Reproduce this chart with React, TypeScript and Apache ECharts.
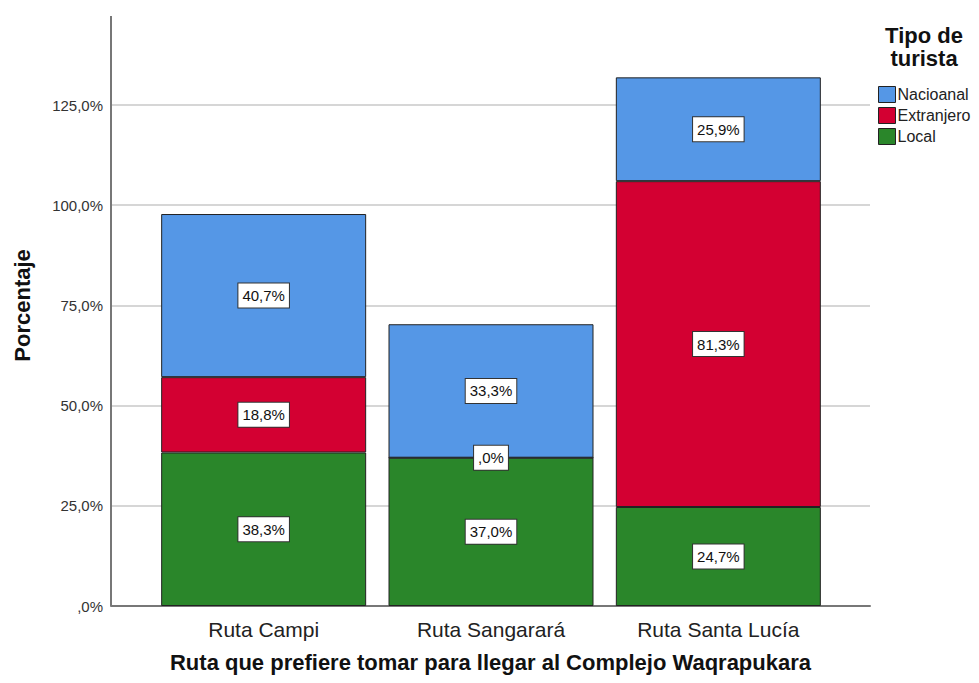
import React, { useEffect, useRef } from "react";
import * as echarts from "echarts";

const categories = ["Ruta Campi", "Ruta Sangarará", "Ruta Santa Lucía"];
const seriesNames = ["Nacioanal", "Extranjero", "Local"];
const localValues = [38.3, 37.0, 24.7];
const extranjeroValues = [18.8, 0.0, 81.3];
const nacionalValues = [40.7, 33.3, 25.9];
const yTicks = [0, 25, 50, 75, 100, 125];

const colors = { Nacioanal: "#5597E6", Extranjero: "#D30032", Local: "#2A862A" };
const FONT = "Liberation Sans, Arial, sans-serif";

function fmt(v: number): string {
  let s = v.toFixed(1).replace(".", ",");
  if (s.startsWith("0,")) s = s.slice(1);
  return s + "%";
}

export default function App() {
  const ref = useRef<HTMLDivElement>(null);
  useEffect(() => {
    if (!ref.current) return;
    const chart = echarts.init(ref.current, null, { renderer: "svg" });
    const yMax = 150;
    const gridTop = 4.8;
    const label = {
      show: true,
      position: "inside",
      formatter: (p: any) => fmt(p.value),
      backgroundColor: "#ffffff",
      borderColor: "#333333",
      borderWidth: 1,
      padding: [5, 4, 4, 4],
      color: "#111",
      fontSize: 15,
      fontFamily: FONT,
    };
    const mk = (name: string, data: number[]) => ({
      name,
      type: "bar",
      stack: "total",
      xAxisIndex: 1,
      yAxisIndex: 1,
      barWidth: 205,
      data,
      itemStyle: { color: (colors as any)[name], borderColor: "#222", borderWidth: 1 },
      label,
    });
    chart.setOption({
      animation: false,
      backgroundColor: "#ffffff",
      grid: [
        { left: 111, right: 109, top: gridTop, bottom: 77, outerBoundsMode: "none", containLabel: false },
        { left: 150, right: 147, top: gridTop, bottom: 77, outerBoundsMode: "none", containLabel: false },
      ],
      xAxis: [
        {
          type: "value",
          gridIndex: 0,
          min: 0,
          max: 1,
          axisLine: { show: true, lineStyle: { color: "#777", width: 2 } },
          axisTick: { show: false },
          axisLabel: { show: false },
          splitLine: { show: false },
          name: "Ruta que prefiere tomar para llegar al Complejo Waqrapukara",
          nameLocation: "middle",
          nameGap: 45,
          nameTextStyle: { fontFamily: FONT, fontSize: 22, fontWeight: "bold", color: "#111" },
        },
        {
          type: "category",
          gridIndex: 1,
          data: categories,
          axisLine: { show: false },
          axisTick: { show: false },
          axisLabel: { fontFamily: FONT, fontSize: 21, color: "#222", margin: 13 },
        },
      ],
      yAxis: [
        {
          type: "value",
          gridIndex: 0,
          min: 0,
          max: yMax,
          interval: 25,
          axisLine: { show: false },
          axisTick: { show: false },
          axisLabel: {
            fontFamily: FONT,
            fontSize: 15,
            color: "#333",
            margin: 8,
            formatter: (v: number) => (yTicks.includes(v) ? fmt(v) : ""),
          },
          splitLine: {
            show: true,
            lineStyle: {
              color: ["#c8c8c8", "#c8c8c8", "#c8c8c8", "#c8c8c8", "#c8c8c8", "#c8c8c8", "rgba(0,0,0,0)"],
              width: 1.5,
            },
          },
          name: "Porcentaje",
          nameLocation: "middle",
          nameRotate: 90,
          nameGap: 78,
          nameTextStyle: { fontFamily: FONT, fontSize: 22, fontWeight: "bold", color: "#111" },
        },
        {
          type: "value",
          gridIndex: 1,
          min: 0,
          max: yMax,
          show: false,
          splitLine: { show: false },
        },
      ],
      legend: {
        orient: "vertical",
        left: 873,
        top: 81,
        itemWidth: 17,
        itemHeight: 16,
        itemGap: 4,
        data: seriesNames,
        textStyle: { fontFamily: FONT, fontSize: 16, color: "#222", padding: [0, 0, 0, -3] },
        itemStyle: { borderColor: "#222", borderWidth: 1 },
        icon: "rect",
      },
      graphic: [
        {
          type: "line",
          shape: { x1: 111, y1: 16, x2: 111, y2: 606 },
          style: { stroke: "#777", lineWidth: 2 },
          z: 10,
        },
        {
          type: "text",
          x: 924,
          y: 24,
          style: {
            text: "Tipo de\nturista",
            align: "center",
            verticalAlign: "top",
            fontFamily: FONT,
            fontSize: 22,
            fontWeight: "bold",
            fill: "#111",
            lineHeight: 23,
          },
        },
      ],
      series: [
        mk("Local", localValues),
        mk("Extranjero", extranjeroValues),
        mk("Nacioanal", nacionalValues),
      ],
    });
    return () => chart.dispose();
  }, []);
  return <div ref={ref} style={{ width: 979, height: 683, margin: -8 }} />;
}
